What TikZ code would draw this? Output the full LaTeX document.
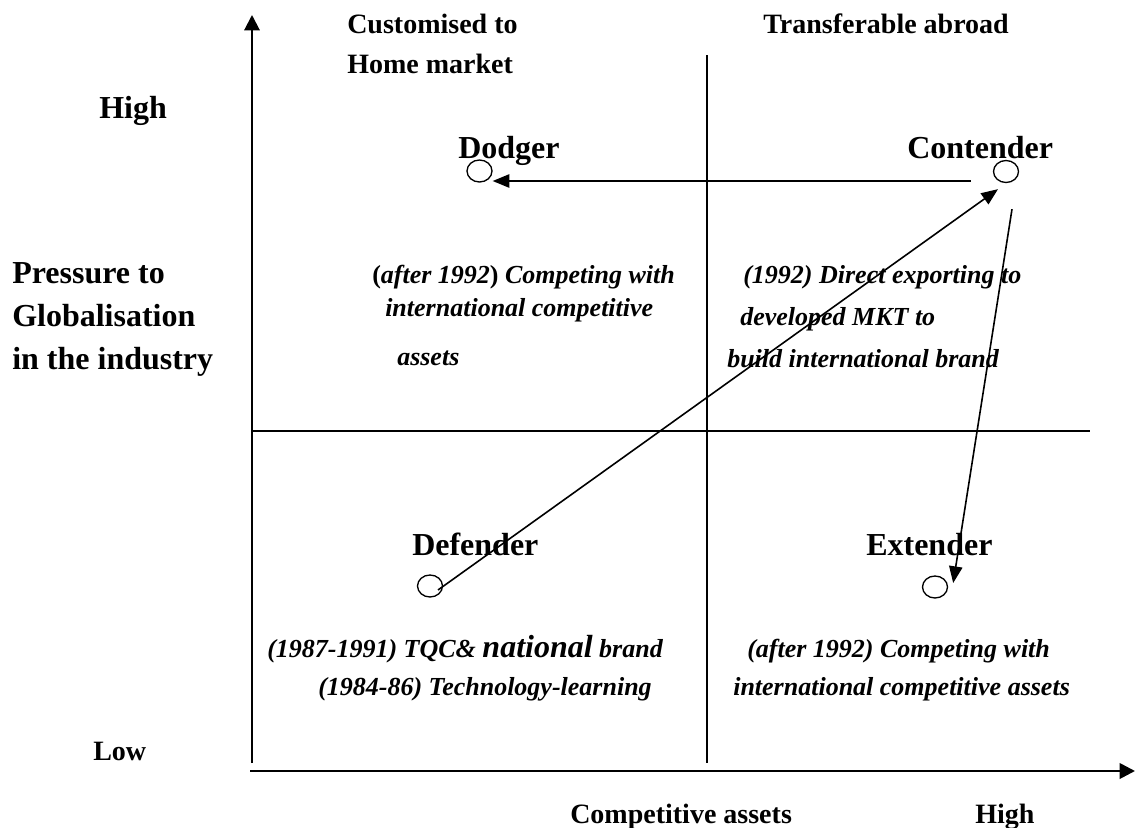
\documentclass[tikz,border=0pt]{standalone}
\usepackage{fontspec}
\setmainfont{Liberation Serif}
\usetikzlibrary{arrows.meta,shapes.geometric,calc}
\begin{document}
\begin{tikzpicture}[x=0.75pt,y=-0.75pt,
  lbl/.style={inner sep=0, anchor=base west, font=\fontsize{21}{25}\selectfont\bfseries},
  big/.style={inner sep=0, anchor=base west, font=\fontsize{24}{28}\selectfont\bfseries},
  note/.style={inner sep=0, anchor=base west, font=\fontsize{19.5}{23}\selectfont\bfseries\itshape},
  spot/.style={draw, ellipse, minimum width=18.75pt, minimum height=16.5pt, inner sep=0, line width=1pt},
  axisline/.style={line width=1.5pt, -{Triangle[length=11.5pt,width=11.5pt]}},
  divider/.style={line width=1.3pt},
  arr/.style={line width=1.2pt, -{Triangle[length=12.5pt,width=10pt]}}]
\useasboundingbox (0,0) rectangle (1135,828);

% axes
\coordinate (ybot) at (252,763);
\coordinate (ytop) at (252,15);
\coordinate (xbeg) at (250,771);
\coordinate (xend) at (1135,771);
\draw[axisline] (ybot) -- (ytop);
\draw[axisline, line width=2pt] (xbeg) -- (xend);

% dividers
\coordinate (vtop) at (707,55);
\coordinate (vbot) at (707,763);
\coordinate (hl) at (252,431);
\coordinate (hr) at (1090,431);
\draw[divider] (vtop) -- (vbot);
\draw[divider] (hl) -- (hr);

% column headers
\node[lbl] (h1) at (347,33) {Customised to};
\node[lbl] (h2) at (347,73) {Home market};
\node[lbl] (h3) at (763,33) {Transferable abroad};

% left labels
\node[big] (yhigh) at (99,118) {High};
\node[big] (p1) at (12,283) {Pressure to};
\node[big] (p2) at (12,326) {Globalisation};
\node[big] (p3) at (12,369) {in the industry};
\node[lbl] (ylow) at (93,760) {Low};

% bottom labels
\node[lbl] (xlab) at (570,823) {Competitive assets};
\node[lbl] (xhigh) at (975,823) {High};

% quadrant names
\node[big] (nd) at (458,158) {Dodger};
\node[big] (nc) at (907,158) {Contender};
\node[big] (nf) at (412,555) {Defender};
\node[big] (ne) at (866,555) {Extender};

% circles
\node[spot] (dC) at (479.5,171) {};
\node[spot] (cC) at (1006,171.5) {};
\node[spot] (fC) at (430,586) {};
\node[spot] (eC) at (935,587) {};

% quadrant notes
\node[note] (d1) at (372,283) {\upshape(\itshape after 1992\upshape)\itshape{} Competing with};
\node[note] (d2) at (385,316) {international competitive};
\node[note] (d3) at (397,365) {assets};

\node[note] (c1) at (743,283) {(1992) Direct exporting to};
\node[note] (c2) at (740,325) {developed MKT to};
\node[note] (c3) at (727,367) {build international brand};

\node[note] (f1) at (267,657) {(1987-1991) TQC\& {\fontsize{24}{28}\selectfont national} brand};
\node[note] (f2) at (318,695) {(1984-86) Technology-learning};

\node[note] (e1) at (747,657) {(after 1992) Competing with};
\node[note] (e2) at (733,695) {international competitive assets};

% transitions
\draw[arr] ($(cC.west)+(-22,9.5)$) -- ($(dC.east)+(0,10)$);
\draw[arr] ($(fC.center)+(8,4)$) -- ($(cC.south)+(-8,6)$);
\draw[arr] ($(cC.south)+(6,26)$) -- ($(eC.east)+(5,-4)$);
\end{tikzpicture}
\end{document}
